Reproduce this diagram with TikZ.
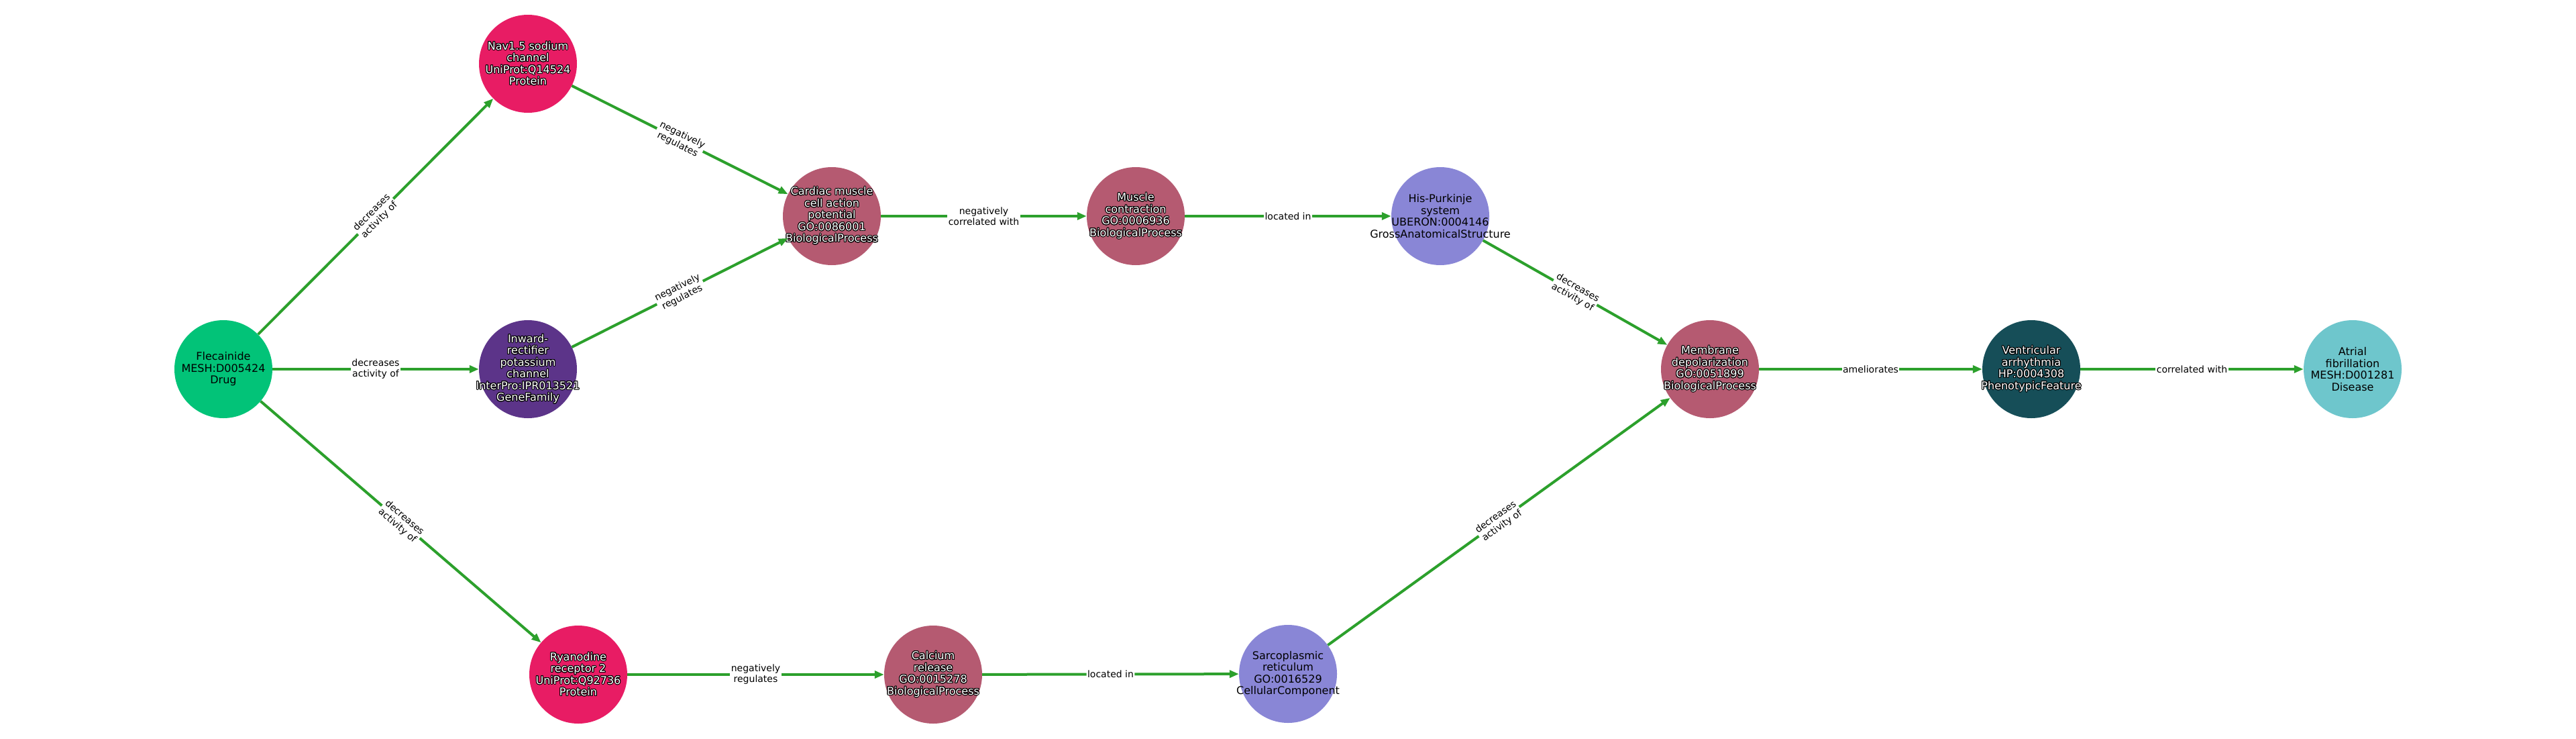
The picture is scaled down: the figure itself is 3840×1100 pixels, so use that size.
\documentclass[tikz,border=0pt]{standalone}
\usepackage{fontspec}
\setmainfont{DejaVu Sans}
\usepackage[copies]{contour}
\contourlength{1pt}
\usetikzlibrary{arrows.meta}
\definecolor{cDrug}{RGB}{2,195,120}
\definecolor{cProt}{RGB}{232,28,100}
\definecolor{cGene}{RGB}{92,52,137}
\definecolor{cBio}{RGB}{181,90,113}
\definecolor{cAnat}{RGB}{137,134,214}
\definecolor{cPheno}{RGB}{22,78,88}
\definecolor{cDis}{RGB}{110,198,204}
\definecolor{cEdge}{RGB}{44,160,44}
\newcommand{\oc}[1]{\contour{black}{#1}}
\tikzset{
  nd/.style={circle, minimum size=146pt, inner sep=0pt, draw=none},
  txtb/.style={inner sep=0pt, align=center, text=black, font=\fontsize{16}{17.5}\selectfont},
  txtw/.style={txtb, text=white},
  edge/.style={draw=cEdge, line width=4pt, -{Triangle[length=14pt,width=11pt]}},
  lbl/.style={fill=white, inner sep=1.5pt, align=center, text=black, sloped,
    font=\fontsize{14}{16}\selectfont}
}
\begin{document}
\begin{tikzpicture}[x=1pt,y=-1pt]
\useasboundingbox[fill=white] (0,0) rectangle (3840,1100);
\node[nd, fill=cDrug, label={[txtb]center:{Flecainide\\MESH:D005424\\Drug}}] (fle) at (333,550) {};
\node[nd, fill=cProt, label={[txtw]center:{\oc{Nav1.5 sodium}\\\oc{channel}\\\oc{UniProt:Q14524}\\\oc{Protein}}}] (nav) at (787,95) {};
\node[nd, fill=cGene, label={[txtw]center:{\oc{Inward-}\\\oc{rectifier}\\\oc{potassium}\\\oc{channel}\\\oc{InterPro:IPR013521}\\\oc{GeneFamily}}}] (kir) at (787,550) {};
\node[nd, fill=cProt, label={[txtw]center:{\oc{Ryanodine}\\\oc{receptor 2}\\\oc{UniProt:Q92736}\\\oc{Protein}}}] (ryr) at (862,1005) {};
\node[nd, fill=cBio, label={[txtw]center:{\oc{Cardiac muscle}\\\oc{cell action}\\\oc{potential}\\\oc{GO:0086001}\\\oc{BiologicalProcess}}}] (cap) at (1240,322) {};
\node[nd, fill=cBio, label={[txtw]center:{\oc{Muscle}\\\oc{contraction}\\\oc{GO:0006936}\\\oc{BiologicalProcess}}}] (mc) at (1693,322) {};
\node[nd, fill=cAnat, label={[txtb]center:{His-Purkinje\\system\\UBERON:0004146\\GrossAnatomicalStructure}}] (his) at (2147,322) {};
\node[nd, fill=cBio, label={[txtw]center:{\oc{Calcium}\\\oc{release}\\\oc{GO:0015278}\\\oc{BiologicalProcess}}}] (car) at (1391,1005) {};
\node[nd, fill=cAnat, label={[txtb]center:{Sarcoplasmic\\reticulum\\GO:0016529\\CellularComponent}}] (sr) at (1920,1004) {};
\node[nd, fill=cBio, label={[txtw]center:{\oc{Membrane}\\\oc{depolarization}\\\oc{GO:0051899}\\\oc{BiologicalProcess}}}] (md) at (2549,550) {};
\node[nd, fill=cPheno, label={[txtw]center:{\oc{Ventricular}\\\oc{arrhythmia}\\\oc{HP:0004308}\\\oc{PhenotypicFeature}}}] (va) at (3028,550) {};
\node[nd, fill=cDis, label={[txtb]center:{Atrial\\fibrillation\\MESH:D001281\\Disease}}] (af) at (3507,550) {};

\draw[edge] (fle) -- node[lbl]{decreases\\activity of} (nav);
\draw[edge] (fle) -- node[lbl]{decreases\\activity of} (kir);
\draw[edge] (fle) -- node[lbl]{decreases\\activity of} (ryr);
\draw[edge] (nav) -- node[lbl]{negatively\\regulates} (cap);
\draw[edge] (kir) -- node[lbl]{negatively\\regulates} (cap);
\draw[edge] (cap) -- node[lbl]{negatively\\correlated with} (mc);
\draw[edge] (mc) -- node[lbl]{located in} (his);
\draw[edge] (his) -- node[lbl]{decreases\\activity of} (md);
\draw[edge] (ryr) -- node[lbl]{negatively\\regulates} (car);
\draw[edge] (car) -- node[lbl]{located in} (sr);
\draw[edge] (sr) -- node[lbl]{decreases\\activity of} (md);
\draw[edge] (md) -- node[lbl]{ameliorates} (va);
\draw[edge] (va) -- node[lbl]{correlated with} (af);
\end{tikzpicture}
\end{document}
